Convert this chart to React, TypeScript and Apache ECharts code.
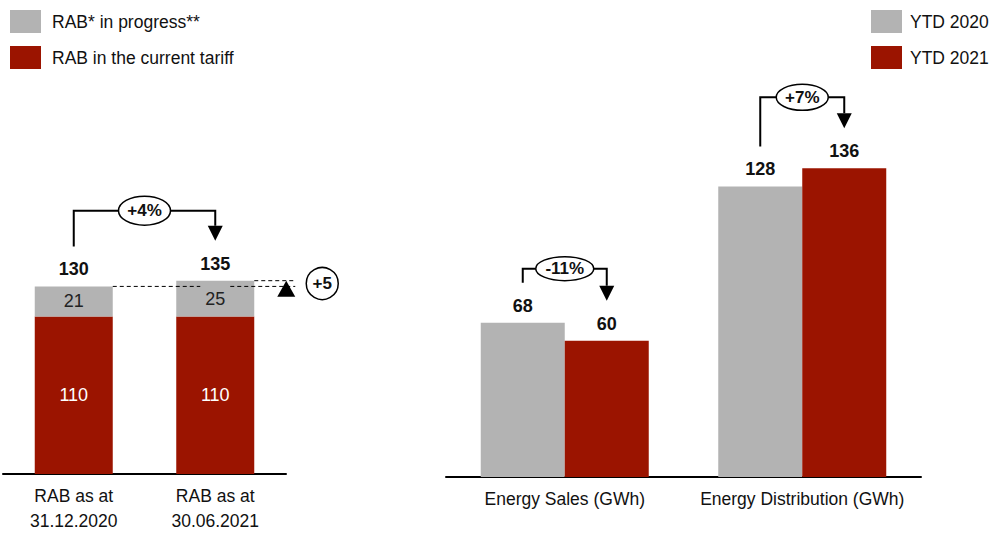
import React, { useEffect, useRef } from "react";
import * as echarts from "echarts";

// ---------- data ----------
const rabCategories = ["RAB as at\n31.12.2020", "RAB as at\n30.06.2021"];
const rabCurrentTariff = [110, 110];
const rabInProgress = [21, 25];
const rabTotals = [130, 135];
const rabStep = "+5";
const rabChange = "+4%";

const energyCategories = ["Energy Sales (GWh)", "Energy Distribution (GWh)"];
const ytd2020 = [68, 128];
const ytd2021 = [60, 136];
const energyChanges = ["-11%", "+7%"];

// ---------- style ----------
const FONT = "'Liberation Sans', Arial, sans-serif";
const FS = 17.5;
const GRAY = "#b3b3b3";
const RED = "#9b1400";
const INK = "#111111";
const LEFT_BAR = 78;
const RIGHT_BAR = 84;

export default function App() {
  const ref = useRef<HTMLDivElement>(null);
  useEffect(() => {
    if (!ref.current) return;
    const chart = echarts.init(ref.current, undefined, { renderer: "svg" });
    const axisLabel = { color: INK, fontSize: FS, fontFamily: FONT, lineHeight: 25, margin: 9, interval: 0 };
    const topLabel = {
      show: true,
      position: "top",
      distance: 8,
      color: INK,
      fontSize: 18,
      fontWeight: "bold",
      fontFamily: FONT,
    };
    const legendBase = {
      orient: "vertical",
      top: 10,
      padding: 0,
      itemWidth: 31,
      itemHeight: 23,
      itemGap: 13,
      icon: "rect",
      selectedMode: false,
    };
    chart.setOption({
      animation: false,
      legend: [
        {
          ...legendBase,
          data: ["RAB* in progress**", "RAB in the current tariff"],
          left: 10,
          textStyle: { color: INK, fontSize: FS, fontFamily: FONT, padding: [0, 0, 0, 6] },
        },
        {
          ...legendBase,
          data: ["YTD 2020", "YTD 2021"],
          left: 871,
          textStyle: { color: INK, fontSize: FS, fontFamily: FONT, padding: [0, 0, 0, 3] },
        },
      ],
      grid: [
        { left: 3, width: 283, top: 116, bottom: 56, containLabel: false },
        { left: 446, width: 475, top: 23, bottom: 56, containLabel: false },
      ],
      xAxis: [
        {
          type: "category",
          gridIndex: 0,
          data: rabCategories,
          axisTick: { show: false },
          axisLine: { lineStyle: { color: "#000", width: 2 } },
          axisLabel,
        },
        {
          type: "category",
          gridIndex: 1,
          data: energyCategories,
          axisTick: { show: false },
          axisLine: { lineStyle: { color: "#000", width: 2 } },
          axisLabel,
        },
      ],
      yAxis: [
        { type: "value", gridIndex: 0, min: 0, max: 250, show: false },
        { type: "value", gridIndex: 1, min: 0, max: 200, show: false },
      ],
      series: [
        {
          name: "RAB in the current tariff",
          type: "bar",
          xAxisIndex: 0,
          yAxisIndex: 0,
          stack: "rab",
          barWidth: LEFT_BAR,
          data: rabCurrentTariff,
          itemStyle: { color: RED },
          label: { show: true, position: "inside", color: "#fff", fontSize: 18, fontFamily: FONT },
        },
        {
          name: "RAB* in progress**",
          type: "bar",
          xAxisIndex: 0,
          yAxisIndex: 0,
          stack: "rab",
          barWidth: LEFT_BAR,
          data: rabInProgress,
          itemStyle: { color: GRAY },
          label: { show: true, position: "inside", color: "#222", fontSize: 18, fontFamily: FONT },
        },
        {
          name: "total",
          type: "bar",
          xAxisIndex: 0,
          yAxisIndex: 0,
          stack: "rab",
          barWidth: LEFT_BAR,
          data: rabTotals.map(() => 0),
          itemStyle: { color: "transparent" },
          label: { ...topLabel, formatter: (p: any) => String(rabTotals[p.dataIndex]) },
        },
        {
          name: "YTD 2020",
          type: "bar",
          xAxisIndex: 1,
          yAxisIndex: 1,
          barWidth: RIGHT_BAR,
          barGap: "0%",
          data: ytd2020,
          itemStyle: { color: GRAY },
          label: topLabel,
        },
        {
          name: "YTD 2021",
          type: "bar",
          xAxisIndex: 1,
          yAxisIndex: 1,
          barWidth: RIGHT_BAR,
          barGap: "0%",
          data: ytd2021,
          itemStyle: { color: RED },
          label: topLabel,
        },
      ],
    });

    // ---------- annotations, positioned from the axes ----------
    const px = (g: number, cat: number, v: number) =>
      chart.convertToPixel({ xAxisIndex: g, yAxisIndex: g }, [cat, v]) as number[];

    const graphics: any[] = [];
    const lineStyle = { stroke: "#000", lineWidth: 2, fill: "none" };
    const bracket = (x1: number, top1: number, x2: number, top2: number, rise: number, text: string, rx: number, ry: number) => {
      const y1 = top1 - 40;
      const tip = top2 - 40;
      const yTop = Math.min(y1, tip) - rise;
      graphics.push({
        type: "polyline",
        shape: { points: [[x1, y1], [x1, yTop], [x2, yTop], [x2, tip - 15]] },
        style: lineStyle,
        z: 10,
      });
      graphics.push({
        type: "polygon",
        shape: { points: [[x2 - 7.5, tip - 15], [x2 + 7.5, tip - 15], [x2, tip]] },
        style: { fill: "#000" },
        z: 10,
      });
      const cx = (x1 + x2) / 2;
      graphics.push({
        type: "ellipse",
        shape: { cx, cy: yTop, rx, ry },
        style: { fill: "#fff", stroke: "#000", lineWidth: 1.5 },
        z: 11,
      });
      graphics.push({
        type: "text",
        x: cx,
        y: yTop,
        style: { text, fill: INK, font: `bold 17px ${FONT}`, align: "center", verticalAlign: "middle" },
        z: 12,
      });
    };

    // left panel
    const a = px(0, 0, rabCurrentTariff[0] + rabInProgress[0]);
    const b = px(0, 1, rabCurrentTariff[1] + rabInProgress[1]);
    bracket(a[0], a[1], b[0], b[1], 30, rabChange, 26, 14.5);

    const dash = { stroke: "#000", lineWidth: 1, lineDash: [4, 3] };
    const bRight = b[0] + LEFT_BAR / 2;
    const triX = bRight + 32;
    graphics.push({ type: "line", shape: { x1: a[0] + LEFT_BAR / 2, y1: a[1], x2: b[0] - 15, y2: a[1] }, style: dash, z: 10 });
    graphics.push({ type: "line", shape: { x1: b[0] + 15, y1: a[1], x2: triX + 9, y2: a[1] }, style: dash, z: 10 });
    graphics.push({ type: "line", shape: { x1: bRight, y1: b[1], x2: triX + 9, y2: b[1] }, style: dash, z: 10 });
    graphics.push({
      type: "polygon",
      shape: { points: [[triX, b[1]], [triX + 9, b[1] + 16], [triX - 9, b[1] + 16]] },
      style: { fill: "#000" },
      z: 11,
    });
    const cy5 = (a[1] + b[1]) / 2;
    graphics.push({ type: "circle", shape: { cx: bRight + 68, cy: cy5, r: 16 }, style: { fill: "#fff", stroke: "#000", lineWidth: 1.5 }, z: 11 });
    graphics.push({
      type: "text",
      x: bRight + 68,
      y: cy5,
      style: { text: rabStep, fill: INK, font: `bold 17px ${FONT}`, align: "center", verticalAlign: "middle" },
      z: 12,
    });

    // right panel
    const rises = [14, 31];
    const radii = [[29, 12], [26, 13]];
    energyCategories.forEach((_, i) => {
      const p = px(1, i, ytd2020[i]);
      const q = px(1, i, ytd2021[i]);
      bracket(p[0] - RIGHT_BAR / 2, p[1], q[0] + RIGHT_BAR / 2, q[1], rises[i], energyChanges[i], radii[i][0], radii[i][1]);
    });

    chart.setOption({ graphic: graphics });
    return () => chart.dispose();
  }, []);
  return <div ref={ref} style={{ position: "fixed", left: 0, top: 0, width: 993, height: 533, background: "#fff" }} />;
}
